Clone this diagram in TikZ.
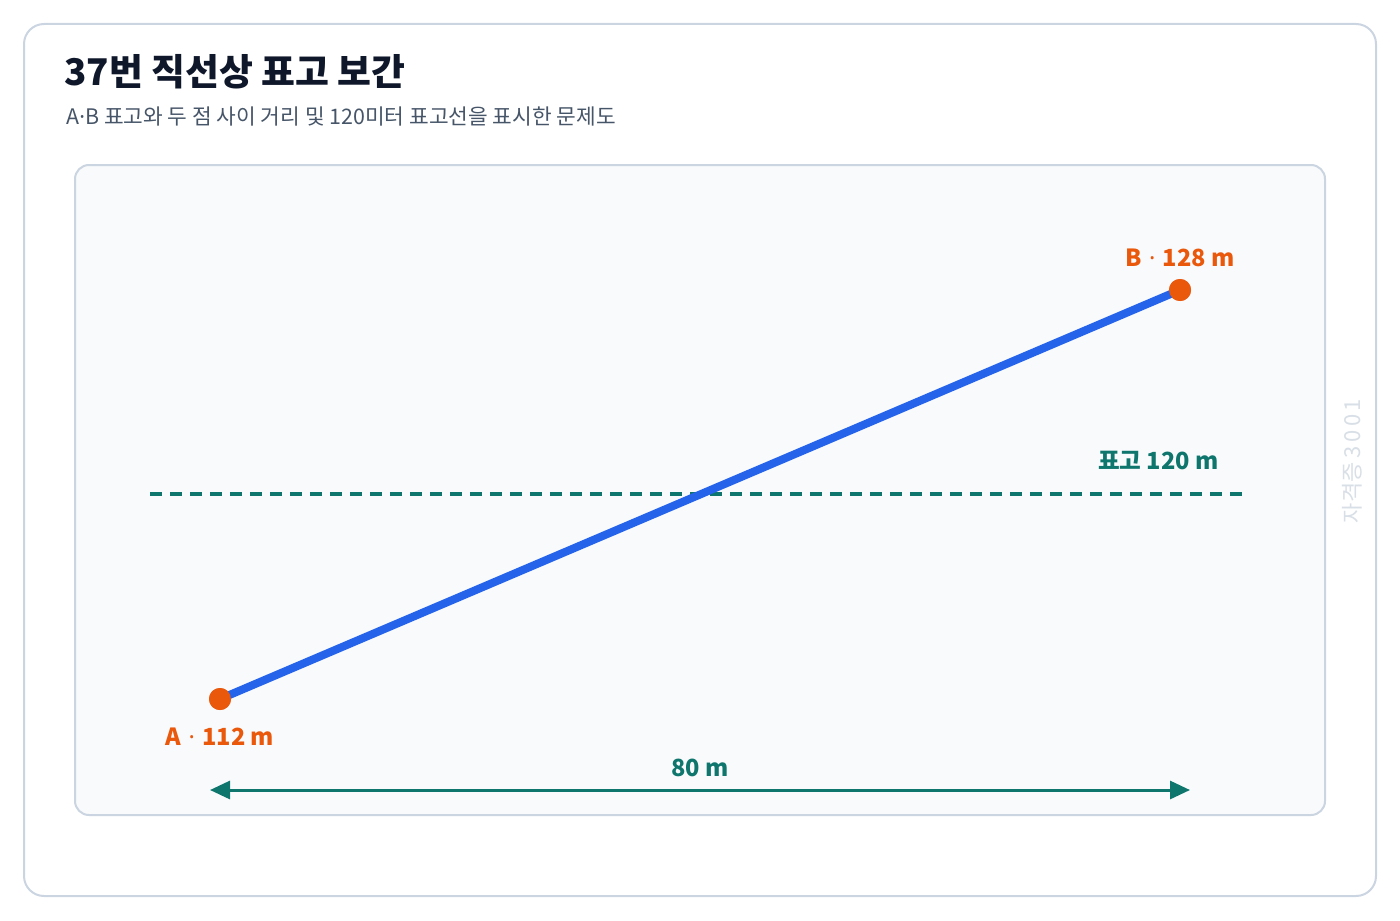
\documentclass[tikz,border=0pt]{standalone}
\usepackage{fontspec}
\setmainfont{Noto Sans CJK KR}
\newfontfamily\latinfont{Noto Sans}
\newcommand\middot{{\latinfont ·}}
\usetikzlibrary{arrows.meta, positioning}
\definecolor{frameline}{HTML}{CBD5E1}
\definecolor{panelfill}{HTML}{F8FAFC}
\definecolor{titleink}{HTML}{0F172A}
\definecolor{subink}{HTML}{475569}
\definecolor{slopeblue}{HTML}{2563EB}
\definecolor{pointorange}{HTML}{EA580C}
\definecolor{levelteal}{HTML}{0F766E}
\definecolor{markgray}{HTML}{D9DFE7}
\tikzset{
  point/.style = {circle, fill=pointorange, inner sep=0pt, minimum size=11pt},
  pointlabel/.style = {inner sep=0pt, text=pointorange, font=\fontsize{11.8}{14}\selectfont\bfseries},
  levellabel/.style = {inner sep=0pt, text=levelteal, font=\fontsize{11.8}{14}\selectfont\bfseries}
}

\begin{document}
\begin{tikzpicture}[x=0.5pt, y=-0.5pt]
  \useasboundingbox (0,0) rectangle (1400,920);

  % Frame and panel
  \draw[frameline, line width=1pt, fill=white, rounded corners=10pt] (24,24) rectangle (1376,896);
  \draw[frameline, line width=1pt, fill=panelfill, rounded corners=7pt] (75,165) rectangle (1325,815);

  % Title
  \node[anchor=base west, inner sep=0pt, text=titleink, font=\fontsize{18.4}{22}\selectfont\bfseries] (title) at (64,85) {37번 직선상 표고 보간};
  \node[anchor=base west, inner sep=0pt, text=subink, font=\fontsize{10.7}{12}\selectfont] (subtitle) at (66,125) {A\middot B 표고와 두 점 사이 거리 및 120미터 표고선을 표시한 문제도};

  % Level line 120 m
  \coordinate (lvlL) at (150,494);
  \coordinate (lvlR) at (1242,494);
  \draw[levelteal, line width=1.6pt, dash pattern=on 6pt off 4pt] (lvlL) -- (lvlR);
  \node[levellabel, anchor=base east] (lvltext) at (1219,469) {표고 120 m};

  % Points A and B
  \node[point] (ptA) at (220,699) {};
  \node[point] (ptB) at (1180,290) {};
  \draw[slopeblue, line width=4pt] (ptA.center) -- (ptB.center);
  \node[point] at (ptA) {};
  \node[point] at (ptB) {};
  \node[pointlabel, below=8.5pt of ptA] (labA) {A \kern1pt\middot\kern1pt{} 112 m};
  \node[pointlabel, above=5.5pt of ptB] (labB) {B \kern1pt\middot\kern1pt{} 128 m};

  % Horizontal distance
  \coordinate (distL) at (210,790);
  \coordinate (distR) at (1190,790);
  \draw[levelteal, line width=1.5pt, {Triangle[length=10pt, width=9pt]}-{Triangle[length=10pt, width=9pt]}] (distL) -- (distR)
    node[levellabel, midway, above=6pt] (disttext) {80 m};

  % Watermark
  \node[rotate=90, inner sep=0pt, text=markgray, font=\fontsize{11}{13}\selectfont] (mark) at (1352,461) {자격증\,3\,0\,0\,1};

\end{tikzpicture}
\end{document}
